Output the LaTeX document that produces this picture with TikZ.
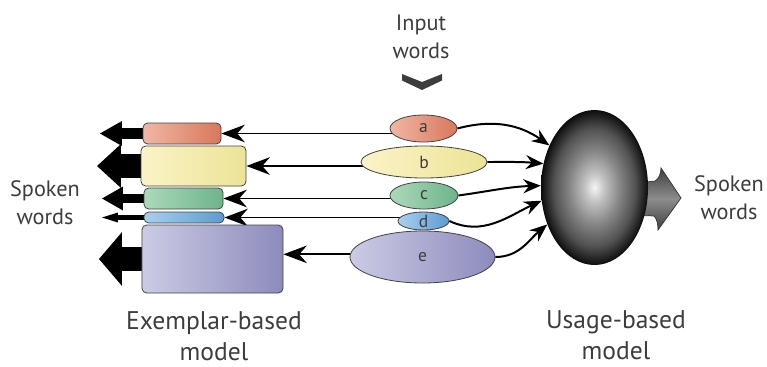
\documentclass[tikz,border=0pt]{standalone}
\usepackage{fontspec}
\setmainfont{PT Sans}
\usetikzlibrary{shapes.geometric,arrows.meta,backgrounds}
\definecolor{txt}{HTML}{3D3D3D}
\definecolor{edge}{HTML}{454545}
\definecolor{redL}{HTML}{F0B7A4}
\definecolor{redR}{HTML}{D8785C}
\definecolor{yelL}{HTML}{FBF3C6}
\definecolor{yelR}{HTML}{ECE397}
\definecolor{grnL}{HTML}{ABD9BA}
\definecolor{grnR}{HTML}{6EB38B}
\definecolor{bluL}{HTML}{A9CFEE}
\definecolor{bluR}{HTML}{5D9BD1}
\definecolor{purL}{HTML}{CBCBE5}
\definecolor{purR}{HTML}{8D8BBC}
\pgfdeclareradialshading{usageball}{\pgfpointorigin}{color(0bp)=(white!96!black); color(5bp)=(black!25); color(12bp)=(black!48); color(19bp)=(black!68); color(23bp)=(black!86); color(25bp)=(black!95); color(50bp)=(black)}
\begin{document}
\begin{tikzpicture}[x=0.03cm,y=-0.03cm,
  lbl/.style={align=center,text=txt,inner sep=0pt,font=\fontsize{19}{23.8}\selectfont},
  modeltxt/.style={align=center,text=txt,inner sep=0pt,font=\fontsize{21.8}{26.4}\selectfont},
  blob/.style={ellipse,draw=edge,line width=0.7pt,inner sep=0pt,text=txt,font=\fontsize{15}{18}\selectfont},
  store/.style={rectangle,rounded corners=4pt,draw=edge,line width=0.7pt,inner sep=0pt},
  arrl/.style={line width=1.7pt,-{Stealth[length=20pt,width=15pt,inset=6.5pt]}},
  arrr/.style={line width=1.7pt,-{Stealth[length=15pt,width=12pt,inset=5pt]}},
  blk/.style n args={3}{black,line width=#1,-{Triangle[length=#2,width=#3,line width=0pt]}}]
  \useasboundingbox (0,0) rectangle (767,366);

  \node[lbl] (inp) at (421,37) {Input\\words};
  \fill[txt] (402,74) -- (422,82) -- (442,74) -- (442,80.5) -- (422,90) -- (402,80.5) -- cycle;

  \node[blob,minimum width=2.01cm,minimum height=0.81cm,left color=redL,right color=redR] (ea) at (423.5,128.5) {a};
  \node[blob,minimum width=3.78cm,minimum height=0.96cm,left color=yelL,right color=yelR] (eb) at (424,162) {b};
  \node[blob,minimum width=2.04cm,minimum height=0.81cm,left color=grnL,right color=grnR] (ec) at (424,195.5) {c};
  \node[blob,minimum width=1.53cm,minimum height=0.54cm,left color=bluL,right color=bluR] (ed) at (423.5,221) {d};
  \node[blob,minimum width=4.35cm,minimum height=1.56cm,left color=purL,right color=purR] (ee) at (422.5,257) {e};

  \node[store,minimum width=2.34cm,minimum height=0.63cm,left color=redL,right color=redR] (ra) at (182,133.5) {};
  \node[store,minimum width=3.15cm,minimum height=1.2cm,left color=yelL,right color=yelR] (rb) at (193.5,166) {};
  \node[store,minimum width=2.37cm,minimum height=0.63cm,left color=grnL,right color=grnR] (rc) at (183.5,198.5) {};
  \node[store,minimum width=2.4cm,minimum height=0.33cm,left color=bluL,right color=bluR] (rd) at (184,217.5) {};
  \node[store,minimum width=4.23cm,minimum height=2.04cm,left color=purL,right color=purR] (re) at (212.5,259) {};

  \node[ellipse,minimum width=3.21cm,minimum height=4.65cm,inner sep=0pt,shading=usageball] (ss) at (594.5,187.5) {};

  \coordinate (ta) at (100,133.5);
  \coordinate (tb) at (97,166);
  \coordinate (tc) at (102,198.5);
  \coordinate (td) at (102,217.5);
  \coordinate (te) at (99,259);
  \coordinate (le) at ([yshift=4pt]re.east);

  \begin{pgfonlayer}{background}
    \draw[blk={9.4pt}{18.7pt}{21.3pt}] (ra.west) -- (ta);
    \draw[blk={20.4pt}{20.4pt}{37.4pt}] (rb.west) -- (tb);
    \draw[blk={8.5pt}{17.9pt}{20.4pt}] (rc.west) -- (tc);
    \draw[blk={4.3pt}{13.6pt}{8.5pt}] (rd.west) -- (td);
    \draw[blk={20.4pt}{19.6pt}{45.9pt}] (re.west) -- (te);

    \draw[arrl] (ea |- ra) -- (ra.east);
    \draw[arrl] (eb |- rb) -- (rb.east);
    \draw[arrl] (ec |- rc) -- (rc.east);
    \draw[arrl] (ed |- rd) -- (rd.east);
    \draw[arrl] (ee |- le) -- (le);

    \draw[draw=black!80,line width=0.6pt,top color=black!75,bottom color=black!75,middle color=black!45]
      (630,184) -- (655,181) .. controls (659,179) and (661,173) .. (661,168) -- (681,198)
      -- (658,230) .. controls (658,224) and (657,219) .. (654,216) -- (630,215) -- cycle;
  \end{pgfonlayer}

  \draw[arrr] (ea.east) to[out=15,in=145] (ss.137);
  \draw[arrr] (eb.east) to[out=0,in=175] (ss.155);
  \draw[arrr] (ec.east) to[out=8,in=182] (ss.178);
  \draw[arrr] (ed.east) to[out=-25,in=205] (ss.194);
  \draw[arrr] (ee.east) to[out=0,in=220] (ss.218);

  \node[lbl] (spl) at (45,203) {Spoken\\words};
  \node[lbl] (spr) at (729,198) {Spoken\\words};
  \node[modeltxt] (exm) at (214,336) {Exemplar-based\\model};
  \node[modeltxt] (usm) at (616,335) {Usage-based\\model};
\end{tikzpicture}
\end{document}
